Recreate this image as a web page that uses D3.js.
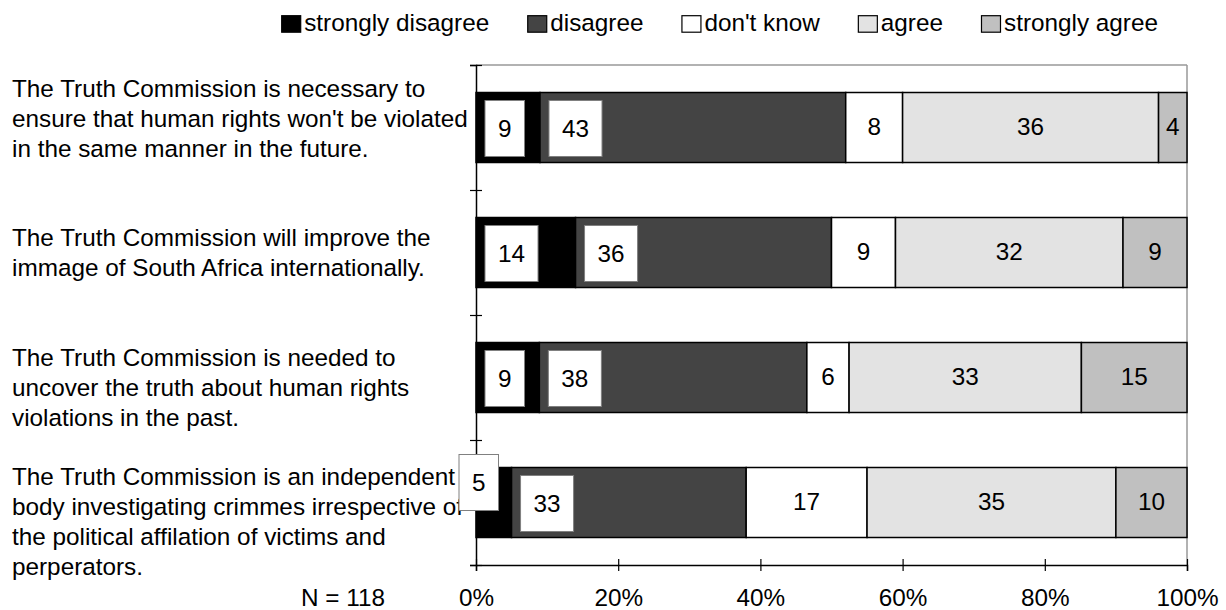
<!DOCTYPE html>
<html><head><meta charset="utf-8">
<script src="https://cdn.jsdelivr.net/npm/d3@7"></script>
<style>
html,body{margin:0;padding:0;background:#fff;}
svg{display:block;font-family:"Liberation Sans",Arial,sans-serif;}
</style></head>
<body>
<svg id="chart" width="1226" height="610"></svg>
<script>
// ---- data ----
const categories = [
  ["The Truth Commission is necessary to", "ensure that human rights won't be violated", "in the same manner in the future."],
  ["The Truth Commission will improve the", "immage of South Africa internationally."],
  ["The Truth Commission is needed to", "uncover the truth about human rights", "violations in the past."],
  ["The Truth Commission is an independent", "body investigating crimmes irrespective of", "the political affilation of victims and", "perperators."]
];
const seriesNames = ["strongly disagree", "disagree", "don't know", "agree", "strongly agree"];
const stronglyDisagree = [9, 14, 9, 5];
const disagree = [43, 36, 38, 33];
const dontKnow = [8, 9, 6, 17];
const agree = [36, 32, 33, 35];
const stronglyAgree = [4, 9, 15, 10];
const xTicks = [0, 20, 40, 60, 80, 100];
const xTickLabels = ["0%", "20%", "40%", "60%", "80%", "100%"];
const noteText = "N = 118";

// ---- styles / layout ----
const colors = ["#000000", "#444444", "#ffffff", "#e3e3e3", "#c0c0c0"];
const boxedSeries = [0, 1];          // labels with white box, placed at inside base
const fontSize = 24.3;
const lineH = 30;
const catLabelShift = [-9, 0, 9.5, 18.8];   // Excel wrapped-label vertical offsets
const movedLabel = {row: 3, series: 0, dx: -26, dy: -21};

const svg = d3.select("#chart");
const M = {left: 476, right: 1187, top: 65, bottom: 565};

const rows = categories.map((c, i) => ({
  idx: i,
  [seriesNames[0]]: stronglyDisagree[i],
  [seriesNames[1]]: disagree[i],
  [seriesNames[2]]: dontKnow[i],
  [seriesNames[3]]: agree[i],
  [seriesNames[4]]: stronglyAgree[i]
}));

const stack = d3.stack().keys(seriesNames).offset(d3.stackOffsetExpand);
const stacked = stack(rows);

const x = d3.scaleLinear().domain([0, 1]).range([M.left, M.right]);
const y = d3.scaleBand().domain(d3.range(categories.length)).range([M.top, M.bottom])
  .paddingInner(0.44).paddingOuter(0.22);
const yb = d3.scaleLinear().domain([0, categories.length]).range([M.top, M.bottom]);
const step = y.step();

// plot border (top/right gray)
svg.append("line").attr("x1", M.left).attr("x2", M.right).attr("y1", M.top).attr("y2", M.top)
  .attr("stroke", "#999").attr("stroke-width", 1.5);
svg.append("line").attr("x1", M.right).attr("x2", M.right).attr("y1", M.top).attr("y2", M.bottom)
  .attr("stroke", "#999").attr("stroke-width", 1.5);

// bars
const g = svg.append("g");
stacked.forEach((s, si) => {
  g.selectAll(null).data(s).join("rect")
    .attr("x", d => x(d[0]))
    .attr("width", d => x(d[1]) - x(d[0]))
    .attr("y", (d, i) => y(i))
    .attr("height", y.bandwidth())
    .attr("fill", colors[si])
    .attr("stroke", "#000").attr("stroke-width", 1.5);
});

// axes
const xAxis = svg.append("g").attr("transform", `translate(0,${M.bottom})`)
  .call(d3.axisBottom(x).tickValues(xTicks.map(v => v / 100)).tickFormat((d, i) => xTickLabels[i]).tickSizeOuter(0).tickSize(6));
xAxis.select(".domain").attr("stroke", "#000").attr("stroke-width", 1.5);
xAxis.selectAll(".tick line").attr("y1", -6).attr("y2", 6).attr("stroke", "#000").attr("stroke-width", 1.2);
xAxis.selectAll(".tick text").attr("y", 0).attr("dy", 0).attr("transform", "translate(0,41)")
  .attr("font-size", fontSize).attr("fill", "#000").attr("font-family", "Liberation Sans, Arial, sans-serif");

const yAxis = svg.append("g").attr("transform", `translate(${M.left},0)`)
  .call(d3.axisLeft(yb).tickValues(d3.range(categories.length + 1)).tickFormat("").tickSizeOuter(0).tickSize(6));
yAxis.select(".domain").attr("stroke", "#000").attr("stroke-width", 1.5);
yAxis.selectAll(".tick line").attr("x1", -6).attr("x2", 6).attr("stroke", "#000").attr("stroke-width", 1.2);

// note
svg.append("text").attr("x", 385).attr("y", 606).attr("text-anchor", "end")
  .attr("font-size", fontSize).text(noteText);

// category labels
categories.forEach((lines, i) => {
  const cy = y(i) + y.bandwidth() / 2;
  const first = cy - (lines.length - 1) * lineH / 2 + 8.7 + catLabelShift[i];
  const t = svg.append("text").attr("x", 12).attr("font-size", fontSize).attr("fill", "#000");
  lines.forEach((ln, k) => t.append("tspan").attr("x", 12).attr("y", first + k * lineH).text(ln));
});

// value labels
const vals = [stronglyDisagree, disagree, dontKnow, agree, stronglyAgree];
stacked.forEach((s, si) => {
  s.forEach((d, i) => {
    const v = vals[si][i];
    const cy = y(i) + y.bandwidth() / 2;
    if (boxedSeries.includes(si)) {
      const w = String(v).length * fontSize * 0.556 + 26;
      const h = 56;
      let bx = x(d[0]) + 9, by = cy - h / 2 + 1;
      if (movedLabel.row === i && movedLabel.series === si) { bx += movedLabel.dx; by += movedLabel.dy; }
      svg.append("rect").attr("x", bx).attr("y", by).attr("width", w).attr("height", h)
        .attr("fill", "#fff").attr("stroke", "#808080").attr("stroke-width", 1);
      svg.append("text").attr("x", bx + w / 2).attr("y", by + h / 2 + 8.7).attr("text-anchor", "middle")
        .attr("font-size", fontSize).attr("fill", "#000").text(v);
    } else {
      const cx = (x(d[0]) + x(d[1])) / 2;
      svg.append("text").attr("x", cx).attr("y", cy + 7.5).attr("text-anchor", "middle")
        .attr("font-size", fontSize).attr("fill", "#000").text(v);
    }
  });
});

// legend
let lx = 281.7;
const legend = svg.append("g");
seriesNames.forEach((name, si) => {
  legend.append("rect").attr("x", lx).attr("y", 15.7).attr("width", 19).attr("height", 16.5)
    .attr("fill", colors[si]).attr("stroke", "#000").attr("stroke-width", 1.2);
  const t = legend.append("text").attr("x", lx + 22.5).attr("y", 31).attr("font-size", fontSize)
    .attr("fill", "#000").text(name);
  lx += 22.5 + t.node().getComputedTextLength() + 38.5;
});
</script>
</body></html>
